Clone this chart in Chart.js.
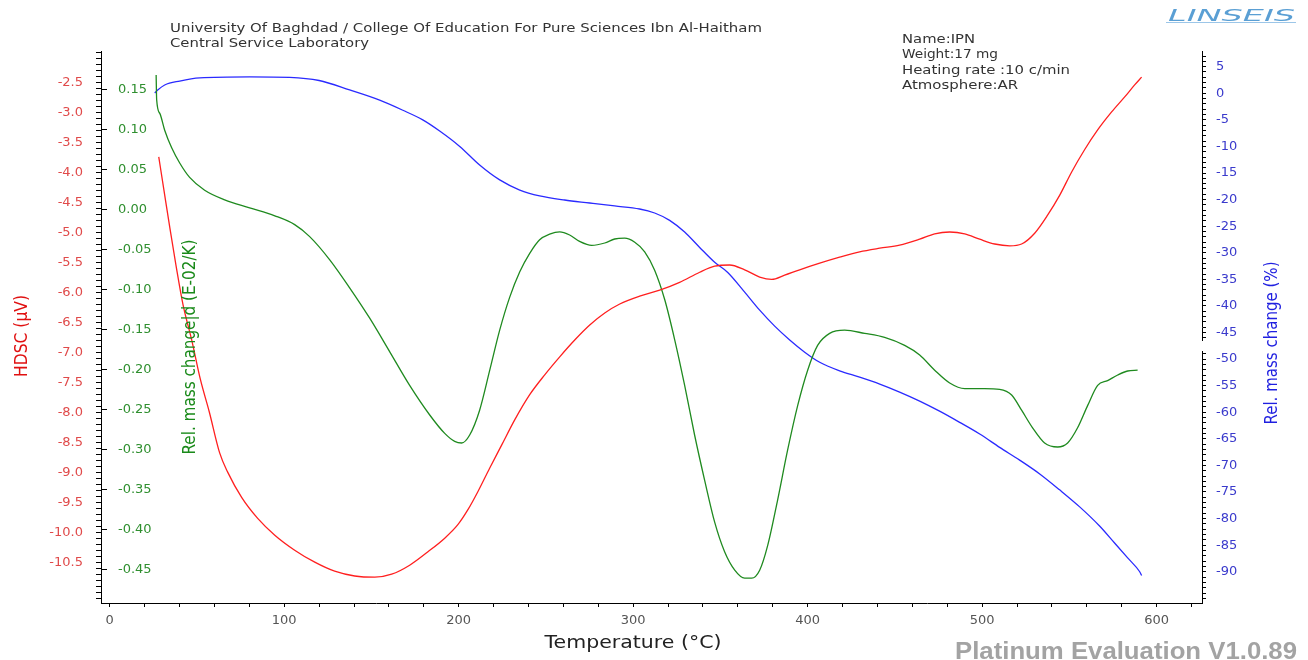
<!DOCTYPE html>
<html><head><meta charset="utf-8">
<script src="https://cdn.jsdelivr.net/npm/chart.js@4"></script>
<style>html,body{margin:0;padding:0;background:#fff;}canvas{display:block;}</style>
</head><body>
<canvas id="c" width="1308" height="660"></canvas>
<script>
// ---- data (temperature in °C) ----
const tempDsc = [28.1,31.0,34.4,38.0,42.0,47.0,52.0,57.0,63.0,67.6,75.6,84.8,94.6,106.0,117.5,128.9,140.4,151.9,161.6,171.9,182.2,192.0,199.4,205.2,210.9,217.8,224.6,232.1,240.7,249.3,257.9,266.5,275.1,283.7,292.3,303.7,315.2,326.6,338.1,346.7,355.3,363.9,372.5,379.4,386.8,395.4,406.9,418.3,429.8,441.3,452.7,464.2,472.8,481.4,490.0,498.6,507.2,515.8,522.6,530.1,537.5,544.4,551.3,558.7,566.2,574.2,581.7,587.4,591.4];
const dscValues = [-3.74,-4.28,-4.91,-5.55,-6.20,-6.79,-7.45,-7.98,-8.67,-8.99,-9.41,-9.76,-10.04,-10.29,-10.49,-10.64,-10.72,-10.74,-10.69,-10.54,-10.32,-10.09,-9.87,-9.62,-9.32,-8.92,-8.54,-8.12,-7.70,-7.37,-7.07,-6.79,-6.54,-6.34,-6.19,-6.06,-5.96,-5.83,-5.66,-5.56,-5.54,-5.62,-5.74,-5.78,-5.71,-5.62,-5.51,-5.41,-5.32,-5.26,-5.21,-5.11,-5.02,-4.99,-5.02,-5.11,-5.19,-5.22,-5.19,-5.01,-4.71,-4.38,-3.99,-3.62,-3.29,-2.99,-2.74,-2.54,-2.41];

const tempDtg = [26.6,26.9,28.7,31.5,35.5,40.1,45.8,54.4,65.9,80.2,94.6,106.0,114.6,126.1,137.5,149.0,160.5,171.9,183.4,192.0,197.7,201.7,206.3,212.0,217.8,223.5,229.2,235.0,240.7,246.4,252.1,257.9,263.6,269.3,276.2,283.7,289.4,295.1,300.9,306.6,312.3,318.1,323.8,329.5,335.2,341.0,346.7,352.4,358.2,363.9,367.9,372.5,377.1,382.8,388.5,394.3,400.0,405.7,412.6,421.2,432.7,444.1,455.6,464.2,472.8,481.4,490.0,501.4,510.0,516.9,522.6,528.9,535.8,543.3,549.0,554.7,560.5,566.2,571.9,577.7,583.4,589.1];
const dtgValues = [0.168,0.137,0.120,0.099,0.077,0.058,0.040,0.024,0.012,0.002,-0.008,-0.019,-0.034,-0.063,-0.098,-0.136,-0.178,-0.220,-0.257,-0.280,-0.290,-0.292,-0.282,-0.251,-0.201,-0.151,-0.110,-0.078,-0.055,-0.038,-0.031,-0.028,-0.032,-0.040,-0.045,-0.042,-0.037,-0.036,-0.041,-0.053,-0.076,-0.113,-0.163,-0.220,-0.282,-0.339,-0.391,-0.428,-0.451,-0.461,-0.461,-0.451,-0.420,-0.363,-0.301,-0.245,-0.201,-0.170,-0.155,-0.151,-0.155,-0.160,-0.170,-0.182,-0.201,-0.217,-0.224,-0.224,-0.225,-0.232,-0.251,-0.273,-0.292,-0.297,-0.292,-0.273,-0.245,-0.220,-0.214,-0.207,-0.202,-0.201];

const tempTg = [25.8,27.5,31.5,40.1,51.6,80.2,103.2,120.0,137.5,154.7,168.0,179.4,189.1,200.6,212.0,223.5,235.0,246.4,260.7,275.1,289.4,303.7,312.3,320.9,329.5,338.1,346.7,354.2,363.9,372.5,381.1,389.7,398.3,406.9,418.3,429.8,441.3,452.7,464.2,475.6,487.1,498.6,510.0,521.5,533.0,544.4,555.9,567.3,575.9,583.4,590.3,591.4];
const tgValues = [0.05,0.6,1.55,2.3,2.9,3.1,3.0,2.4,0.62,-1.3,-3.2,-5.0,-7.1,-10.0,-13.5,-16.3,-18.2,-19.3,-20.08,-20.64,-21.20,-21.77,-22.52,-23.9,-26.1,-29.0,-31.8,-33.7,-37.4,-40.8,-43.8,-46.4,-48.7,-50.6,-52.2,-53.4,-54.7,-56.2,-57.9,-59.8,-61.9,-64.1,-66.6,-69.0,-71.6,-74.6,-77.8,-81.4,-84.6,-87.4,-90.0,-90.7];

// ---- text ----
const headerLines = ['University Of Baghdad / College Of Education For Pure Sciences Ibn Al-Haitham','Central Service Laboratory'];
const infoLines = ['Name:IPN','Weight:17 mg','Heating rate :10 c/min','Atmosphere:AR'];
const titleDsc = 'HDSC (µV)';
const titleDtg = 'Rel. mass change|d (E-02/K)';
const titleTg = 'Rel. mass change (%)';
const titleX = 'Temperature (°C)';
const brand = 'LINSEIS';
const footer = 'Platinum Evaluation V1.0.89';

const RED='#ff1f1f', GREEN='#1f8a1f', BLUE='#2a2aff';
const TICKFONT = {family:'DejaVu Sans', size:13};
const NARROW = "'Liberation Sans Narrow','DejaVu Sans Condensed','Liberation Sans',sans-serif";

function fitText(ctx, text, x, y, width, font, color, align, rot, baseline){
  ctx.save();
  ctx.font = font; ctx.fillStyle = color;
  ctx.textBaseline = baseline || 'alphabetic';
  ctx.textAlign = align || 'left';
  const w = ctx.measureText(text).width;
  ctx.translate(x, y);
  if (rot) ctx.rotate(rot);
  ctx.scale(width / w, 1);
  ctx.fillText(text, 0, 0);
  ctx.restore();
}

const textPlugin = {
  id: 'texts',
  afterDraw(chart){
    const c = chart.ctx;
    // break in right axis
    c.save(); c.fillStyle='#fff'; c.fillRect(1196, 341, 14, 10); c.restore();
    const F = "'DejaVu Sans',sans-serif";
    fitText(c, headerLines[0], 170, 32, 592, '12px '+F, '#333');
    fitText(c, headerLines[1], 170, 47, 199, '12px '+F, '#333');
    const infoW = [73, 96, 168, 116];
    const infoY = [43, 58, 74, 89];
    infoLines.forEach((t,i)=> fitText(c, t, 902, infoY[i], infoW[i], '12px '+F, '#333'));
    fitText(c, brand, 1168, 21, 127, 'italic 15px '+F, '#5a9fd4');
    c.save(); c.strokeStyle='#9cc6e8'; c.lineWidth=1; c.beginPath(); c.moveTo(1166,22.5); c.lineTo(1296,22.5); c.stroke(); c.restore();
    fitText(c, titleDsc, 22, 336, 82, '18px '+NARROW, '#e01010', 'center', -Math.PI/2, 'middle');
    fitText(c, titleDtg, 190, 347, 215, '18px '+NARROW, '#1a8a1a', 'center', -Math.PI/2, 'middle');
    fitText(c, titleTg, 1272, 343, 163, '18px '+NARROW, '#1f1fe0', 'center', -Math.PI/2, 'middle');
    fitText(c, titleX, 633, 648, 177, '17px '+F, '#222', 'center');
    fitText(c, footer, 1297, 659, 342, 'bold 24px Liberation Sans,Arial,sans-serif', '#a3a3a3', 'right');
  }
};

const toPts = (xs, ys) => xs.map((x,i)=>({x:x, y:ys[i]}));
const lineDs = (label, xs, ys, axis, color) => ({
  label, data: toPts(xs, ys), yAxisID: axis, borderColor: color, backgroundColor: color,
  borderWidth: 1.3, pointRadius: 0, fill: false, cubicInterpolationMode: 'monotone'
});

new Chart(document.getElementById('c').getContext('2d'), {
  type: 'line',
  data: { datasets: [
    lineDs('HDSC', tempDsc, dscValues, 'yDsc', RED),
    lineDs('DTG', tempDtg, dtgValues, 'yDtg', GREEN),
    lineDs('TG', tempTg, tgValues, 'yTg', BLUE)
  ]},
  options: {
    responsive: false, animation: false, devicePixelRatio: 1,
    layout: { padding: { top: 51, left: 0, right: 0, bottom: 0 } },
    plugins: { legend: { display: false }, tooltip: { enabled: false } },
    scales: {
      x: {
        type: 'linear', position: 'bottom', min: -5, max: 626,
        ticks: { stepSize: 20, includeBounds: false, autoSkip: false, maxRotation: 0,
          callback: v => (Math.round(v) % 100 === 0 ? String(Math.round(v)) : ''),
          color: '#555', font: TICKFONT, padding: 6 },
        grid: { drawOnChartArea: false, color: '#000', tickLength: 4 },
        border: { color: '#000', width: 1 },
        afterFit: s => { s.height = 57; }
      },
      yDsc: {
        type: 'linear', position: 'left', weight: 10, min: -11.17, max: -1.975,
        ticks: { stepSize: 0.1, includeBounds: false, autoSkip: false, padding: 13,
          color: '#e04a4a', font: TICKFONT,
          callback: v => { const r = Math.round(v*10)/10; return (Math.abs(r*2 - Math.round(r*2)) < 1e-6 && r <= -2.5 && r >= -10.5) ? r.toFixed(1) : ''; } },
        grid: { drawOnChartArea: false, color: '#000', tickLength: 5 },
        border: { color: '#000', width: 1 },
        afterFit: s => { s.width = 101; }
      },
      yDtg: {
        type: 'linear', position: 'left', weight: 0, min: -0.492, max: 0.198,
        ticks: { stepSize: 0.05, includeBounds: false, autoSkip: false, mirror: true, padding: 17,
          color: '#2f8f2f', font: TICKFONT,
          callback: v => { const r = Math.round(v*100)/100; return Math.abs(r) < 1e-9 ? '0.00' : r.toFixed(2); } },
        grid: { drawOnChartArea: false, color: '#000', tickLength: -6 },
        border: { display: false },
        afterFit: s => { s.width = 0; }
      },
      yTg: {
        type: 'linear', position: 'right', min: -95.88, max: 7.95,
        ticks: { stepSize: 1, includeBounds: false, autoSkip: false, padding: 10,
          color: '#3a3acc', font: TICKFONT,
          callback: v => { const r = Math.round(v); return (r % 5 === 0 && r >= -90 && r <= 5) ? String(r) : ''; } },
        grid: { drawOnChartArea: false, color: '#000', tickLength: 4 },
        border: { color: '#000', width: 1 },
        afterFit: s => { s.width = 106; }
      }
    }
  },
  plugins: [textPlugin]
});
</script>
</body></html>
